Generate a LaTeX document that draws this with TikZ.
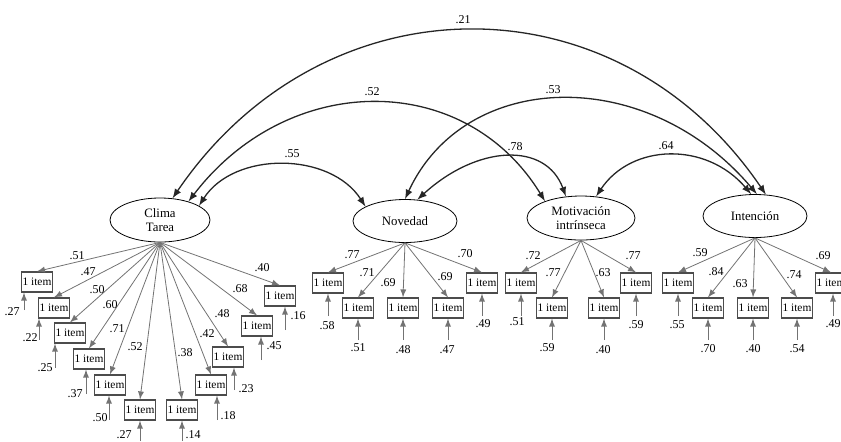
\documentclass[tikz,border=0pt]{standalone}
\usepackage{fontspec}
\setmainfont{Liberation Serif}
\usetikzlibrary{arrows,shapes.geometric}

\begin{document}
\begin{tikzpicture}[x=0.5pt,y=-0.5pt]

	\tikzset{factor/.style={
			draw, ellipse,
			minimum width=#1,
			minimum height=21.5pt,
			inner sep=0pt,
			align=center,
			font=\fontsize{6.4}{7.2}\selectfont
		},
		factor/.default=52pt,
		itembox/.style={draw=black!70, line width=0.6pt, minimum width=15.5pt, minimum height=10pt, inner sep=0pt, font=\fontsize{5.7}{6}\selectfont},
		coef/.style={font=\fontsize{6}{7}\selectfont, inner sep=0pt},
		load/.style={draw=black!55, line width=0.4pt, -latex},
		err/.style={draw=black!55, line width=0.4pt, -latex},
		cov/.style={draw=black!85, line width=0.65pt, latex-latex}
	}

	\useasboundingbox (0,0) rectangle (841,441);
	\clip (0,0) rectangle (841,441);

	% factores
	\node[factor=50pt, minimum height=22pt] (clima) at (160,220) {Clima\\Tarea};
	\node[factor=52pt] (nov) at (405,221) {Novedad};
	\node[factor=54pt, minimum height=22pt] (motiv) at (581,218) {Motivaci\'on\\intr\'inseca};
	\node[factor=52pt] (inten) at (755,216) {Intenci\'on};

	% items, cargas y errores
	\foreach \f/\i/\x/\y/\l/\lx/\ly/\ex/\ey/\e/\elx/\ely in {
		clima/1/37/282/.51/77/256/24/310/.27/12/312,
		clima/2/54/308/.47/88/272/39/340/.22/30/338,
		clima/3/70/333/.50/97/290/55/368/.25/45/368,
		clima/4/89/359/.60/110/305/86/394/.37/75/394,
		clima/5/110/385/.71/117/329/109/420/.50/100/418,
		clima/6/140/410/.52/135/347/140/441/.27/124/435,
		clima/7/182/410/.38/185/353/182/441/.14/193/435,
		clima/8/211/385/.42/207/334/217/420/.18/228/416,
		clima/9/228/357/.48/222/314/234/390/.23/246/389,
		clima/10/257/326/.68/240/289/261/360/.45/274/346,
		clima/11/280/296/.40/262/268/285/330/.16/298/316,
		nov/1/328/283/.77/352/255/328/316/.58/327/326,
		nov/2/358/308/.71/367/273/358/340/.51/358/348,
		nov/3/403/308/.69/388/283/403/340/.48/403/350,
		nov/4/448/308/.69/445/277/448/340/.47/447/350,
		nov/5/482/283/.70/465/254/482/316/.49/483/324,
		motiv/1/521/283/.72/533/256/521/316/.51/517/322,
		motiv/2/552/308/.77/553/273/552/340/.59/547/348,
		motiv/3/604/308/.63/603/273/604/340/.40/603/350,
		motiv/4/636/283/.77/633/256/636/316/.59/636/325,
		inten/1/678/283/.59/700/253/678/316/.55/677/325,
		inten/2/708/308/.84/716/272/708/340/.70/708/349,
		inten/3/753/308/.63/740/284/753/340/.40/753/349,
		inten/4/797/308/.74/794/275/797/340/.54/797/349,
		inten/5/831/283/.69/823/256/833/316/.49/833/324}{
		\node[itembox] (\f\i) at (\x,\y) {1 item};
		\draw[load] (\f.south) -- (\f\i.north);
		\node[coef] at (\lx,\ly) {\l};
		\coordinate (e\f\i) at (\ex,\ey);
		\draw[err] (e\f\i) -- (e\f\i |- \f\i.south);
		\node[coef] at (\elx,\ely) {\e};
	}

	% correlaciones
	\draw[cov] (clima.60) .. controls +(150,-221) and +(-150,-221) .. (inten.63);
	\draw[cov] (clima.33) .. controls +(100,-131) and +(-80,-131) .. (motiv.155);
	\draw[cov] (nov.90) .. controls +(60,-130) and +(-110,-130) .. (inten.85);
	\draw[cov] (clima.20) .. controls +(35,-55) and +(-35,-55) .. (nov.160);
	\draw[cov] (nov.60) .. controls +(60,-55) and +(-20,-55) .. (motiv.125);
	\draw[cov] (motiv.55) .. controls +(35,-53) and +(-45,-53) .. (inten.100);
	\node[coef] (r1) at (463,20) {.21};
	\node[coef] (r2) at (372,92) {.52};
	\node[coef] (r3) at (553,90) {.53};
	\node[coef] (r4) at (292,154) {.55};
	\node[coef] (r5) at (515,147) {.78};
	\node[coef] (r6) at (666,146) {.64};

\end{tikzpicture}
\end{document}
